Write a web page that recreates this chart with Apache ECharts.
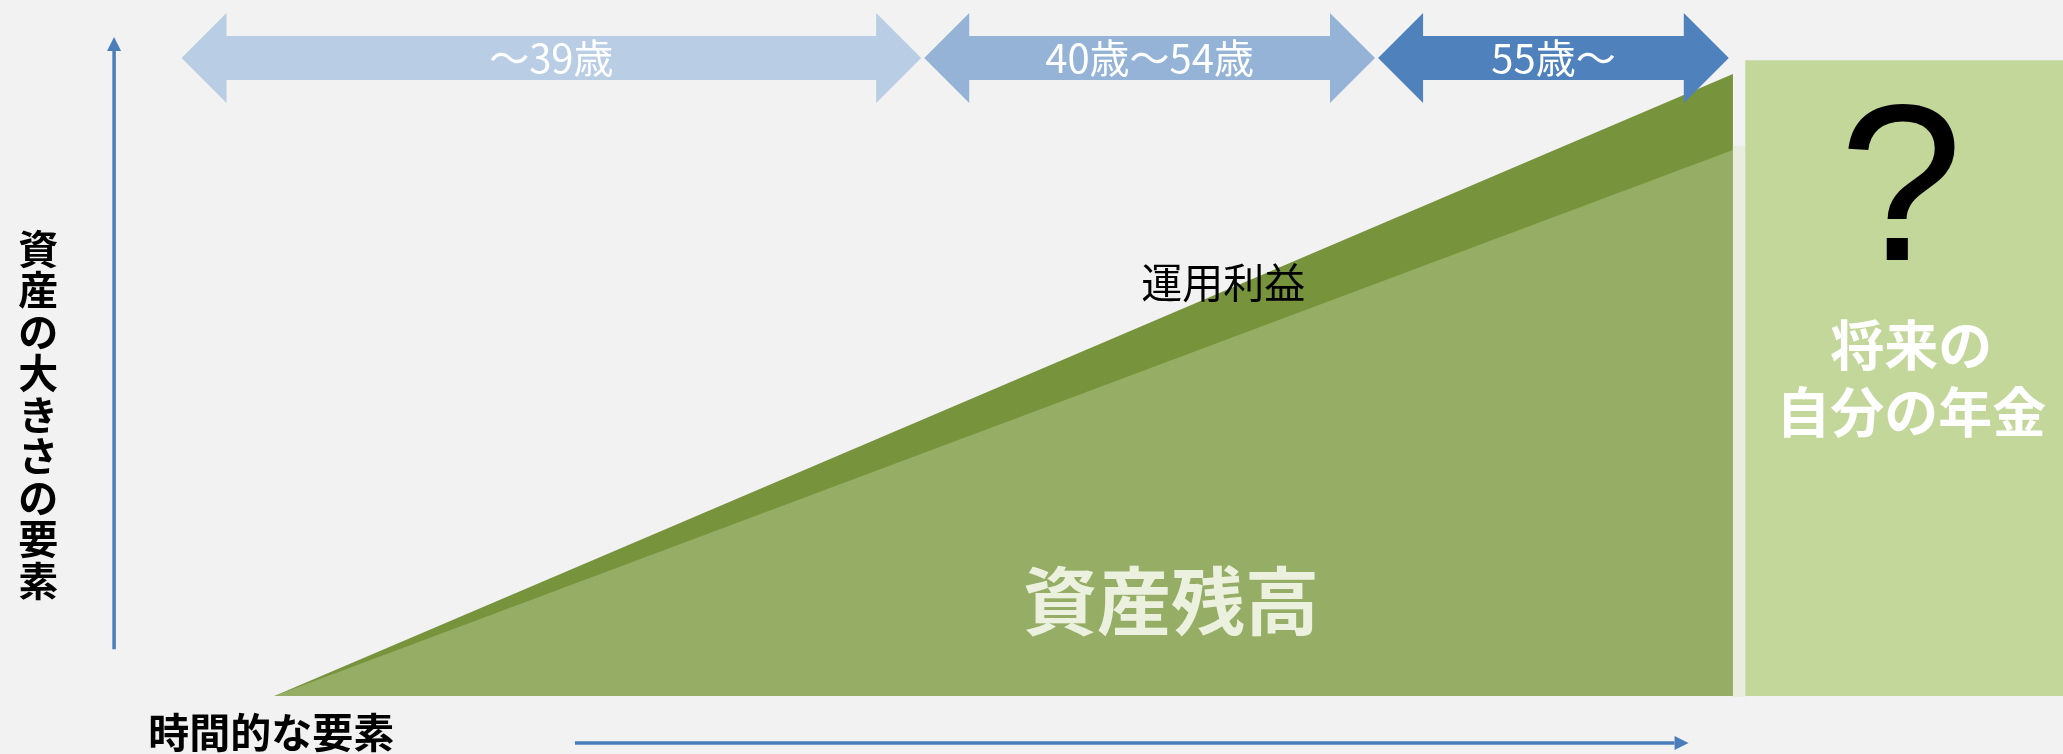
<!DOCTYPE html>
<html><head><meta charset="utf-8">
<script src="https://cdn.jsdelivr.net/npm/echarts@6/dist/echarts.min.js"></script>
<style>html,body{margin:0;padding:0;background:#f2f2f2;overflow:hidden}#c{width:2063px;height:754px}</style>
</head><body><div id="c"></div><script>
// ---- data (abstract units: time 0-100, asset size) ----
const ageBands = ['～39歳', '40歳～54歳', '55歳～'];
const bandStart = [8.8, 44.8, 66.8];
const bandEnd = [44.65, 66.65, 83.8];
const timeSpan = [13.3, 84.0];
const principal = [0, 72.4];      // 資産残高
const totalAssets = [0, 82.5];    // 資産残高 + 運用利益
const pensionSpan = [84.6, 100];
const pensionHeight = [84.3];
const titles = ['資産の大きさの要素', '時間的な要素'];
const areaLabels = ['運用利益', '資産残高'];
const pensionLabels = ['?', '将来の\n自分の年金'];

// ---- layout & styles ----
const JP = '"Noto Sans CJK JP", "Noto Sans", sans-serif';
const BAND_Y = 84.6;
const bandColors = ['#b9cde5', '#95b3d7', '#4f81bd'];
const axisArrows = [[5.53, 6.2, 5.53, 87.4], [27.87, -6.24, 81.85, -6.24]];
const textItems = [
  {text: titles[0].split('').join('\n'), x: 1.85, y: 37.3, size: 40, weight: 'bold', color: '#000', lh: 41.5, fam: JP},
  {text: titles[1], x: 13.15, y: -4.9, size: 41, weight: 'bold', color: '#000', fam: JP},
  {text: areaLabels[0], x: 59.3, y: 54.8, size: 41, weight: 'normal', color: '#000', fam: JP},
  {text: areaLabels[1], x: 56.76, y: 12.6, size: 74, weight: 'bold', color: '#ebf1de', fam: JP},
  {text: pensionLabels[0], x: 92.15, y: 66.0, size: 222, weight: 'normal', color: '#000', fam: '"Liberation Sans", Arial, sans-serif'},
  {text: pensionLabels[1], x: 92.65, y: 42.1, size: 54, weight: 'bold', color: '#ffffff', lh: 67, fam: JP}
];

const chart = echarts.init(document.getElementById('c'), null, {renderer: 'canvas'});
chart.setOption({
  backgroundColor: '#f2f2f2',
  animation: false,
  grid: {left: 0, right: 0, top: 0, bottom: 0},
  xAxis: {type: 'value', min: 0, max: 100, show: false},
  yAxis: {type: 'value', min: -7.7, max: 92.3, show: false},
  series: [
    {
      name: '運用利益', type: 'line', silent: true, showSymbol: false,
      data: timeSpan.map((t, i) => [t, totalAssets[i]]),
      lineStyle: {width: 0}, areaStyle: {color: '#77933c', opacity: 1}, z: 1
    },
    {
      name: '資産残高', type: 'line', silent: true, showSymbol: false,
      data: timeSpan.map((t, i) => [t, principal[i]]),
      lineStyle: {width: 0}, areaStyle: {color: '#96ad65', opacity: 1}, z: 2
    },
    {
      type: 'custom', silent: true, z: 3,
      data: [[pensionSpan[0], pensionHeight[0], pensionSpan[1]]],
      renderItem: (params, api) => {
        const tl = api.coord([api.value(0), api.value(1)]);
        const br = api.coord([api.value(2), 0]);
        const te = api.coord([timeSpan[1], principal[1]]);
        return {type: 'group', children: [
          {type: 'rect', shape: {x: te[0], y: te[1] - 4, width: tl[0] - te[0], height: br[1] - te[1] + 5}, style: {fill: '#e9eddf'}},
          {type: 'rect', shape: {x: tl[0], y: tl[1], width: br[0] - tl[0], height: br[1] - tl[1]}, style: {fill: '#c4d79b'}}
        ]};
      }
    },
    {
      type: 'custom', silent: true, z: 4,
      data: ageBands.map((b, i) => [bandStart[i], BAND_Y, bandEnd[i]]),
      renderItem: (params, api) => {
        const i = params.dataIndex;
        const p0 = api.coord([api.value(0), api.value(1)]);
        const p1 = api.coord([api.value(2), api.value(1)]);
        const cy = p0[1], head = 45, hh = 45, hb = 22;
        const pts = [[p0[0], cy], [p0[0] + head, cy - hh], [p0[0] + head, cy - hb], [p1[0] - head, cy - hb],
          [p1[0] - head, cy - hh], [p1[0], cy], [p1[0] - head, cy + hh], [p1[0] - head, cy + hb],
          [p0[0] + head, cy + hb], [p0[0] + head, cy + hh]];
        return {type: 'group', children: [
          {type: 'polygon', shape: {points: pts}, style: {fill: bandColors[i]}},
          {type: 'text', x: (p0[0] + p1[0]) / 2, y: cy, style: {text: ageBands[i], align: 'center', verticalAlign: 'middle',
            fill: '#ffffff', fontSize: 40, fontFamily: JP}}
        ]};
      }
    },
    {
      type: 'custom', silent: true, z: 5,
      data: axisArrows,
      renderItem: (params, api) => {
        const a = api.coord([api.value(0), api.value(1)]);
        const b = api.coord([api.value(2), api.value(3)]);
        const dx = b[0] - a[0], dy = b[1] - a[1], len = Math.hypot(dx, dy);
        const ux = dx / len, uy = dy / len, hl = 14, hw = 7;
        const base = [b[0] - ux * hl, b[1] - uy * hl];
        return {type: 'group', children: [
          {type: 'line', shape: {x1: a[0], y1: a[1], x2: base[0], y2: base[1]}, style: {stroke: '#4a7ebb', lineWidth: 3.5}},
          {type: 'polygon', shape: {points: [b, [base[0] - uy * hw, base[1] + ux * hw], [base[0] + uy * hw, base[1] - ux * hw]]}, style: {fill: '#4a7ebb'}}
        ]};
      }
    },
    {
      type: 'custom', silent: true, z: 6,
      data: textItems.map(t => [t.x, t.y]),
      renderItem: (params, api) => {
        const t = textItems[params.dataIndex];
        const p = api.coord([api.value(0), api.value(1)]);
        const st = {text: t.text, align: 'center', verticalAlign: 'middle', fill: t.color,
          fontSize: t.size, fontWeight: t.weight, fontFamily: t.fam};
        if (t.lh) st.lineHeight = t.lh;
        return {type: 'text', x: p[0], y: p[1], style: st};
      }
    }
  ]
});
</script></body></html>
